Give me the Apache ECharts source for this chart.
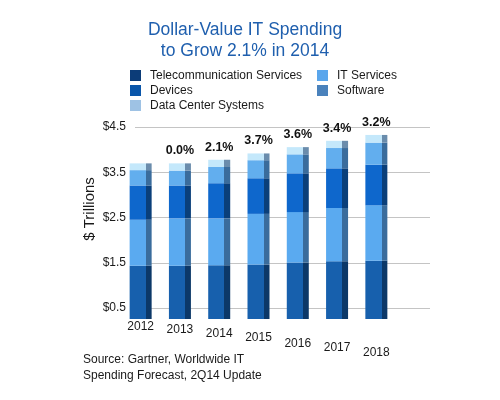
<!DOCTYPE html>
<html><head><meta charset="utf-8">
<script src="https://cdn.jsdelivr.net/npm/echarts@6/dist/echarts.min.js"></script>
<style>html,body{margin:0;padding:0;background:#fff}#c{width:500px;height:400px}</style>
</head><body><div id="c"></div>
<script>
const years = ['2012', '2013', '2014', '2015', '2016', '2017', '2018'];
const telecom = [1.43, 1.43, 1.44, 1.46, 1.50, 1.53, 1.54];
const itServices = [1.02, 1.05, 1.04, 1.12, 1.12, 1.18, 1.23];
const devices = [0.76, 0.73, 0.78, 0.79, 0.86, 0.88, 0.90];
const software = [0.34, 0.33, 0.36, 0.40, 0.42, 0.45, 0.49];
const dataCenter = [0.15, 0.16, 0.16, 0.15, 0.16, 0.16, 0.17];
const growth = ['', '0.0%', '2.1%', '3.7%', '3.6%', '3.4%', '3.2%'];
const yTicks = [0.5, 1.5, 2.5, 3.5, 4.5];

const FONT = 'Liberation Sans, Arial, sans-serif';
function face(front, side) {
  return new echarts.graphic.LinearGradient(0, 0, 1, 0, [
    { offset: 0, color: front }, { offset: 0.74, color: front },
    { offset: 0.74, color: side }, { offset: 1, color: side }
  ]);
}
const chart = echarts.init(document.getElementById('c'), null, { renderer: 'canvas' });
const barBase = { type: 'bar', stack: 'total', xAxisIndex: 0, yAxisIndex: 0, barWidth: 22 };
chart.setOption({
  backgroundColor: '#ffffff',
  animation: false,
  textStyle: { fontFamily: FONT },
  title: [{
    text: 'Dollar-Value IT Spending\nto Grow 2.1% in 2014',
    left: 240, top: 15, textAlign: 'center',
    textStyle: { color: '#1f5fae', fontSize: 17.5, fontWeight: 'normal', lineHeight: 21, fontFamily: FONT }
  }, {
    text: 'Source: Gartner, Worldwide IT\nSpending Forecast, 2Q14 Update',
    left: 78, top: 347,
    textStyle: { color: '#1a1a1a', fontSize: 12, fontWeight: 'normal', lineHeight: 16, fontFamily: FONT }
  }],
  legend: [{
    orient: 'vertical', left: 125, top: 63, itemWidth: 11, itemHeight: 11, itemGap: 0,
    icon: 'rect',
    textStyle: { color: '#1a1a1a', fontSize: 12, lineHeight: 15, padding: [0, 0, 0, 4], fontFamily: FONT },
    data: [
      { name: 'Telecommunication Services', itemStyle: { color: '#0c3c78' } },
      { name: 'Devices', itemStyle: { color: '#0a56aa' } },
      { name: 'Data Center Systems', itemStyle: { color: '#9ec2e4' } }
    ]
  }, {
    orient: 'vertical', left: 312, top: 63, itemWidth: 11, itemHeight: 11, itemGap: 0,
    icon: 'rect',
    textStyle: { color: '#1a1a1a', fontSize: 12, lineHeight: 15, padding: [0, 0, 0, 4], fontFamily: FONT },
    data: [
      { name: 'IT Services', itemStyle: { color: '#5aa6ec' } },
      { name: 'Software', itemStyle: { color: '#4a82bc' } }
    ]
  }],
  grid: [
    { left: 121, right: 104, top: 116, bottom: 81 },
    { left: 135, right: 70, top: 127, bottom: 92 }
  ],
  xAxis: [{
    type: 'category', gridIndex: 0, data: years,
    axisLine: { show: false }, axisTick: { show: false },
    axisLabel: {
      interval: 0, hideOverlap: false,
      margin: 2, color: '#1a1a1a', fontSize: 12, fontFamily: FONT,
      formatter: (v, i) => '{p' + i + '|' + v + '}',
      rich: {
        p0: { padding: [0, 0, 0, 0] }, p1: { padding: [3, 0, 0, 0] },
        p2: { padding: [7, 0, 0, 0] }, p3: { padding: [11, 0, 0, 0] },
        p4: { padding: [17, 0, 0, 0] }, p5: { padding: [21, 0, 0, 0] },
        p6: { padding: [26, 0, 0, 0] }
      }
    }
  }, {
    type: 'value', gridIndex: 1, min: 0, max: 1, show: false
  }],
  yAxis: [{
    type: 'value', gridIndex: 0, min: 0.25, max: 4.75, show: false
  }, {
    type: 'value', gridIndex: 1, min: yTicks[0], max: yTicks[yTicks.length - 1], interval: 1,
    axisLine: { show: false }, axisTick: { show: false },
    axisLabel: { margin: 9, color: '#1a1a1a', fontSize: 12, fontFamily: FONT, formatter: v => '$' + v.toFixed(1) },
    splitLine: { show: true, lineStyle: { color: '#c4c4c4', width: 1.2 } }
  }],
  graphic: [{
    type: 'text', x: 90, y: 209, rotation: Math.PI / 2,
    style: { text: '$ Trillions', fontSize: 15, fontFamily: FONT, fill: '#1a1a1a', textAlign: 'center', textVerticalAlign: 'middle' }
  }],
  series: [
    Object.assign({}, barBase, { name: 'Telecommunication Services', data: telecom, itemStyle: { color: face('#1760ad', '#0c3868') } }),
    Object.assign({}, barBase, { name: 'IT Services', data: itServices, itemStyle: { color: face('#5aaaf0', '#3a6c9c') } }),
    Object.assign({}, barBase, { name: 'Devices', data: devices, itemStyle: { color: face('#0e67cc', '#0a3f7a') } }),
    Object.assign({}, barBase, { name: 'Software', data: software, itemStyle: { color: face('#62aeee', '#3a6c9c') } }),
    Object.assign({}, barBase, {
      name: 'Data Center Systems', data: dataCenter, itemStyle: { color: face('#c4e8fb', '#6a8cac') },
      label: { show: true, position: 'top', distance: 6, formatter: p => growth[p.dataIndex],
        fontWeight: 'bold', fontSize: 12.5, color: '#111', fontFamily: FONT }
    })
  ]
});
</script></body></html>
